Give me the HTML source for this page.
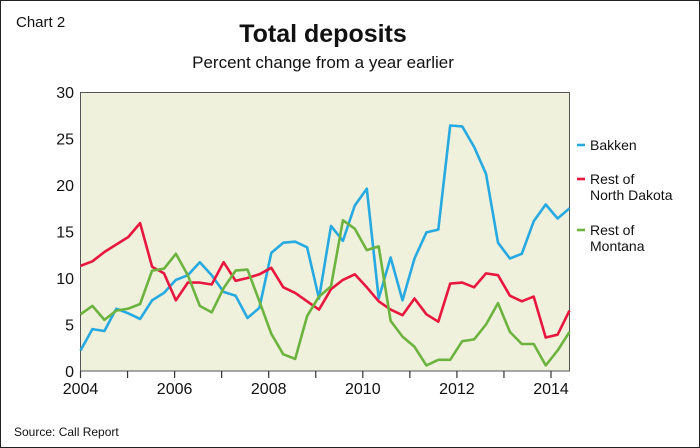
<!DOCTYPE html>
<html><head><meta charset="utf-8"><style>
body{margin:0;background:#fff;}
svg{display:block;font-family:"Liberation Sans",sans-serif;}
</style></head><body>
<svg id="chart" width="700" height="448" viewBox="0 0 700 448">
<rect x="0.5" y="0.5" width="699" height="447" fill="#fff" stroke="#222"/>
<text x="16" y="27" font-size="15" fill="#111">Chart 2</text>
<text x="323" y="42" font-size="25" font-weight="bold" text-anchor="middle" fill="#111">Total deposits</text>
<text x="323" y="68" font-size="17" text-anchor="middle" fill="#111">Percent change from a year earlier</text>
<rect x="80.5" y="92.5" width="489" height="278.5" fill="#eff1dc" stroke="#555"/>
<g id="axes"></g>
<g id="series"></g>
<g id="legend"></g>
<text x="14" y="436" font-size="12" fill="#111">Source: Call Report</text>
</svg>
<script>
const yTicks=[0,5,10,15,20,25,30];
const xTickLabels=[2004,2006,2008,2010,2012,2014];
const bakken=[2.2,4.5,4.3,6.7,6.2,5.6,7.6,8.4,9.8,10.3,11.7,10.3,8.5,8.1,5.7,6.8,12.7,13.8,13.9,13.3,7.8,15.6,14.0,17.8,19.6,7.8,12.2,7.6,12.1,14.9,15.2,26.4,26.3,24.1,21.2,13.8,12.1,12.6,16.1,17.9,16.4,17.5];
const restND=[11.3,11.8,12.8,13.6,14.4,15.9,11.2,10.5,7.6,9.5,9.5,9.3,11.7,9.7,10.0,10.4,11.1,9.0,8.4,7.5,6.6,8.8,9.8,10.4,9.0,7.5,6.6,6.0,7.8,6.1,5.3,9.4,9.5,9.0,10.5,10.3,8.1,7.5,8.0,3.6,3.9,6.5];
const restMT=[6.1,7.0,5.5,6.5,6.7,7.2,10.8,11.0,12.6,10.3,7.0,6.3,8.9,10.8,10.9,7.5,4.0,1.8,1.3,5.9,8.0,9.1,16.2,15.3,13.0,13.4,5.4,3.7,2.6,0.6,1.2,1.2,3.2,3.4,5.0,7.3,4.2,2.9,2.9,0.6,2.2,4.2];
const seriesNames=["Bakken","Rest of North Dakota","Rest of Montana"];
const NS="http://www.w3.org/2000/svg";
const x0=80.5,pxPerYear=47.05,step=0.2535;
const xs=t=>x0+(t-2004)*pxPerYear;
const ys=v=>371-v*9.3;
function mk(tag,attrs,parent,text){const e=document.createElementNS(NS,tag);for(const k in attrs)e.setAttribute(k,attrs[k]);if(text!==undefined)e.textContent=text;parent.appendChild(e);return e;}
const axes=document.getElementById('axes');
yTicks.forEach(v=>{
  const t=mk('text',{x:74,y:ys(v)+6,'font-size':16,'text-anchor':'end',fill:'#111'},axes,String(v));
  
  
});
for(let yr=2004;yr<=2014;yr++){
  const l=mk('line',{x1:xs(yr),x2:xs(yr),y1:371,y2:378,stroke:'#333','stroke-width':1.2},axes);
  
  
}
xTickLabels.forEach(yr=>{
  const t=mk('text',{x:xs(yr),y:394,'font-size':16,'text-anchor':'middle',fill:'#111'},axes,String(yr));
  
  
});
const sg=document.getElementById('series');
const cols=['#27a9e1','#e8173f','#6db33f'];
[bakken,restND,restMT].forEach((arr,si)=>{
  const d=arr.map((v,i)=>(i?'L':'M')+xs(2004+i*step).toFixed(1)+' '+ys(v).toFixed(1)).join(' ');
  const p=mk('path',{d:d,fill:'none',stroke:cols[si],'stroke-width':2.6,'stroke-linejoin':'round'},sg);
  
  
});
const lg=document.getElementById('legend');
const legY=[145,179,230];
const legLines=[["Bakken"],["Rest of","North Dakota"],["Rest of","Montana"]];
legLines.forEach((lines,si)=>{
  const g=mk('g',{},lg);
  
  
  mk('line',{x1:577,x2:585,y1:legY[si],y2:legY[si],stroke:cols[si],'stroke-width':2.6},g);
  lines.forEach((s,j)=>mk('text',{x:590,y:legY[si]+5+j*16,'font-size':14,fill:'#111'},g,s));
});
</script>
</body></html>
